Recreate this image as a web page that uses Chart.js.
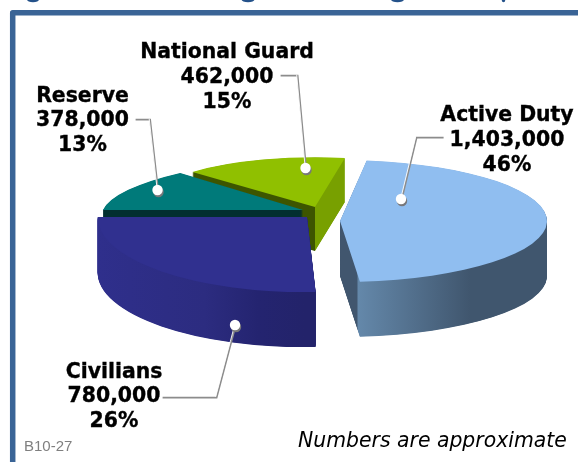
<!DOCTYPE html>
<html><head><meta charset="utf-8">
<style>html,body{margin:0;padding:0;background:#fff}canvas{display:block}</style>
<script src="https://cdn.jsdelivr.net/npm/chart.js@4"></script>
</head><body>
<canvas id="c" width="578" height="462"></canvas>
<script>
const categories = ["Active Duty", "Civilians", "Reserve", "National Guard"];
const personnel = [1403000, 780000, 378000, 462000];
const percents = [46, 26, 13, 15];
const note = "Numbers are approximate";
const figureId = "B10-27";

// Each slice's sweep comes from the data through Chart.js; this table only says
// how that slice's element is projected to fake the source's 3-D perspective.
const views = [
  {cx:340, cy:221, rx:207, ry:61, skew:0, tilt:0, depth:55, top:"#90bef0",
   side:[[340,"#41566e"],[357,"#41566e"],[358,"#6488aa"],[470,"#40566e"],[547,"#40566e"]]},
  {cx:307, cy:217, rx:209, ry:75, skew:-11.5, tilt:3.5, depth:55, top:"#30308f",
   side:[[98,"#2f2f8c"],[215,"#2c2c80"],[270,"#242470"],[316,"#23236a"]]},
  {cx:303, cy:210, rx:198.6, ry:52.3, skew:-35.5, tilt:2.5, depth:30, top:"#007a7a",
   side:[[100,"#022f2f"],[310,"#022f2f"]]},
  {cx:315, cy:207, rx:173, ry:49.7, skew:-7.7, tilt:2.1, depth:44, top:"#90c000",
   side:[[190,"#3d5500"],[314.5,"#3d5500"],[315,"#78a000"],[346,"#78a000"]]}
];
const drawOrder = [3, 2, 1, 0];

const callouts = [
  {x:507, y:[116,141,166], line:[[443,137],[416,137],[401,199]]},
  {x:114, y:[373,397,422], line:[[162,397],[216,397],[235,325]]},
  {x:82.5, y:[97,121,146], line:[[135,119],[149.5,119],[157.5,190]]},
  {x:227, y:[53,78,103], line:[[280,75],[297,75],[305.5,168]]}
];
// Bottoms of the cropped-off title's descenders along the top edge.
const titleCropMarks = [[33,6],[248,6.5],[397.5,6.5],[503.5,1.8]];

function project(ctx, arc, v, drop){
  const R = arc.outerRadius;
  ctx.translate(v.cx, v.cy + drop);
  ctx.transform(v.rx/R, v.tilt/R, v.skew/R, v.ry/R, 0, 0);
  ctx.translate(-arc.x, -arc.y);
}
function sideFill(ctx, arc, v){
  const R = arc.outerRadius, toX = X => arc.x + (X - v.cx) * R / v.rx;
  const s = v.side, x0 = s[0][0], x1 = s[s.length-1][0];
  const g = ctx.createLinearGradient(toX(x0), 0, toX(x1), 0);
  s.forEach(p => g.addColorStop((p[0]-x0)/(x1-x0), p[1]));
  return g;
}
function polyline(ctx, pts, dx, dy){
  ctx.beginPath();
  pts.forEach((p,i) => i ? ctx.lineTo(p[0]+dx,p[1]+dy) : ctx.moveTo(p[0]+dx,p[1]+dy));
  ctx.stroke();
}

const pie3d = {
  id:"pie3d",
  beforeDatasetsDraw(chart){
    const ctx = chart.ctx, arcs = chart.getDatasetMeta(0).data;
    ctx.save();
    ctx.fillStyle = "#24528a";
    titleCropMarks.forEach(m => {
      ctx.beginPath(); ctx.ellipse(m[0], -0.5, m[1], 2.8, 0, 0, 7); ctx.fill();
    });
    ctx.strokeStyle = "#3a6496"; ctx.lineWidth = 5.5; ctx.lineJoin = "round";
    ctx.beginPath(); ctx.moveTo(12.7,470); ctx.lineTo(12.7,12.7); ctx.lineTo(590,12.7); ctx.stroke();
    ctx.restore();
    drawOrder.forEach(i => {
      const arc = arcs[i], v = views[i], base = arc.options;
      const fill = sideFill(ctx, arc, v);
      arc.options = Object.assign({}, base, {backgroundColor:fill, borderWidth:0});
      for (let d = v.depth; d > 0; d -= 0.5){
        ctx.save(); project(ctx, arc, v, d); arc.draw(ctx); ctx.restore();
      }
      arc.options = Object.assign({}, base, {backgroundColor:v.top, borderWidth:0});
      ctx.save(); project(ctx, arc, v, 0); arc.draw(ctx); ctx.restore();
      arc.options = base;
    });
    return false;
  },
  afterDraw(chart){
    const ctx = chart.ctx;
    ctx.save();
    ctx.lineJoin = "miter";
    callouts.forEach((c,i) => {
      ctx.strokeStyle = "#8c8c8c"; ctx.lineWidth = 1.8; polyline(ctx, c.line, 0.6, 0.6);
      ctx.strokeStyle = "#ffffff"; ctx.lineWidth = 0.9; polyline(ctx, c.line.slice(1), -0.3, -0.2);
      const e = c.line[c.line.length-1];
      ctx.fillStyle = "#77777a"; ctx.beginPath(); ctx.arc(e[0]+1, e[1]+2, 5.2, 0, 7); ctx.fill();
      ctx.fillStyle = "#ffffff"; ctx.beginPath(); ctx.arc(e[0], e[1], 5.2, 0, 7); ctx.fill();
      ctx.fillStyle = "#000"; ctx.strokeStyle = "#000"; ctx.lineWidth = 0.35;
      ctx.font = "bold 20.4px 'DejaVu Sans'";
      ctx.textAlign = "center"; ctx.textBaseline = "middle";
      [categories[i], personnel[i].toLocaleString("en-US"), percents[i] + "%"]
        .forEach((t,j) => { ctx.fillText(t, c.x, c.y[j]); ctx.strokeText(t, c.x, c.y[j]); });
    });
    ctx.textAlign = "left"; ctx.textBaseline = "middle";
    ctx.fillStyle = "#000"; ctx.font = "italic 20.4px 'DejaVu Sans'";
    ctx.fillText(note, 298, 442);
    ctx.fillStyle = "#7f7f7f"; ctx.font = "15px 'Liberation Sans'";
    ctx.fillText(figureId, 24, 447);
    ctx.restore();
  }
};

new Chart(document.getElementById("c"), {
  type:"pie",
  data:{labels:categories, datasets:[{data:personnel, borderWidth:0, backgroundColor:views.map(v=>v.top)}]},
  options:{
    responsive:false, animation:false, rotation:7.4,
    events:[],
    plugins:{legend:{display:false}, tooltip:{enabled:false}, title:{display:false}}
  },
  plugins:[pie3d]
});
</script>
</body></html>
